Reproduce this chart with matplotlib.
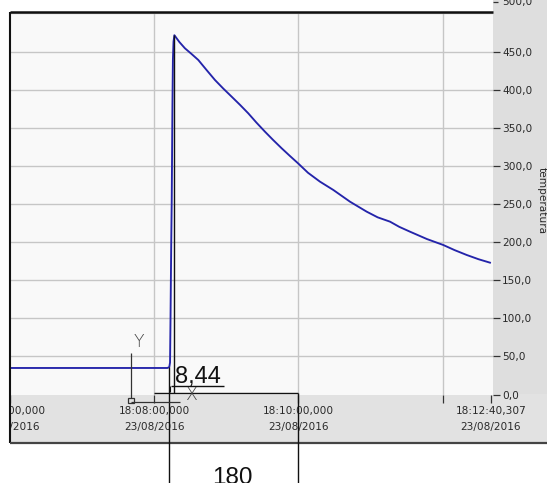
import matplotlib
matplotlib.use("Agg")
import matplotlib.pyplot as plt
from matplotlib.patches import Rectangle
from matplotlib.lines import Line2D
from matplotlib.transforms import ScaledTranslation

# Seconds elapsed since 18:06:00,000 and the recorded temperature
time_s = [0, 60, 120, 131.0, 132.6, 133.2, 133.6, 134.2, 134.6, 135.2, 135.6, 136.1,
          136.8, 141.0, 145.6, 151.0, 156.7, 163.5, 170.6, 177.5, 184.5, 191.5, 198.3,
          205.0, 212.2, 219.0, 226.1, 233.0, 240.0, 248.0, 258.0, 269.1, 283.0, 296.9,
          306.0, 316.3, 324.0, 333.0, 347.0, 360.6, 370.0, 380.1, 390.0, 399.5]
temperature = [34.8, 34.8, 34.8, 34.8, 36.0, 42.0, 100.0, 200.0, 254.0, 380.0, 440.0, 463.0,
               471.5, 462.5, 454.3, 447.0, 439.0, 426.0, 412.7, 401.5, 390.8, 380.0, 369.0,
               357.0, 344.9, 334.0, 323.1, 313.0, 303.0, 291.0, 279.3, 268.4, 253.0, 239.9,
               232.5, 226.8, 220.0, 213.6, 204.0, 196.2, 189.5, 183.1, 177.5, 173.0]

x_tick_pos = [0, 120, 240, 360, 400.307]
x_tick_labels = ["18:06:00,000\n23/08/2016", "18:08:00,000\n23/08/2016",
                 "18:10:00,000\n23/08/2016", "", "18:12:40,307\n23/08/2016"]
x_grid_pos = [120, 240, 360]
y_ticks = [0, 50, 100, 150, 200, 250, 300, 350, 400, 450, 500]
y_label = "temperatura"

W, H = 547, 483
fig = plt.figure(figsize=(W / 100, H / 100), dpi=100, facecolor="white")


def fx(x):
    return x / W


def fy(y):
    return 1 - y / H


left_px, right_px, top_px, bottom_px = 10, 493, 11.5, 394.5

# background panels of the graph widget
bg = fig.add_axes([0, 0, 1, 1], zorder=0)
bg.set_xlim(0, W)
bg.set_ylim(H, 0)
bg.axis("off")
bg.add_patch(Rectangle((right_px, 0), W - right_px, 443, facecolor="#dedede", edgecolor="none"))
bg.add_patch(Rectangle((left_px, bottom_px - 1), W - left_px, 443 - bottom_px + 1,
                       facecolor="#e2e2e2", edgecolor="none"))

# plot area
ax = fig.add_axes([fx(left_px), fy(bottom_px), (right_px - left_px) / W, (bottom_px - top_px) / H],
                  zorder=1)
ax.set_facecolor("#f9f9f9")
ax.set_xlim(0, 402.0)
ax.set_ylim(0, 502.6)
for s in ax.spines.values():
    s.set_visible(False)

for yv in y_ticks[1:]:
    ax.axhline(yv, color="#c6c6c6", lw=1.0, zorder=1)
for xv in x_grid_pos:
    ax.axvline(xv, color="#c6c6c6", lw=1.0, zorder=1)

ax.plot(time_s, temperature, color="#2424aa", lw=1.35, zorder=3, solid_joinstyle="round")

ax.yaxis.tick_right()
ax.set_yticks(y_ticks)
ax.set_yticklabels([f"{v:.1f}".replace(".", ",") for v in y_ticks])
ax.set_xticks(x_tick_pos)
ax.set_xticklabels(x_tick_labels)
ax.tick_params(axis="y", which="both", direction="out", length=5, width=0.9, pad=1.5,
               color="#333333", labelcolor="#2a2a2a", labelsize=7.6)
ax.tick_params(axis="x", which="both", direction="out", length=6, width=0.9, pad=2.5,
               color="#333333", labelcolor="#2a2a2a", labelsize=7.6)
for lbl in ax.get_xticklabels():
    lbl.set_linespacing(1.75)
    lbl.set_family("DejaVu Sans")
for lbl in ax.get_yticklabels():
    lbl.set_family("DejaVu Sans")
# the top scale label sits higher, against the upper edge
top_lbl = ax.get_yticklabels()[-1]
top_lbl.set_transform(top_lbl.get_transform() + ScaledTranslation(0, 0.12, fig.dpi_scale_trans))
ax.yaxis.get_major_ticks()[-1].tick2line.set_visible(False)

fig.text(fx(542), fy(201), y_label, rotation=270, ha="center", va="center",
         fontsize=7.6, color="#2a2a2a")

# overlay: frame lines and drawing annotations
ov = fig.add_axes([0, 0, 1, 1], zorder=3)
ov.set_xlim(0, W)
ov.set_ylim(H, 0)
ov.axis("off")

# outside of the widget stays white
ov.add_patch(Rectangle((0, 0), left_px - 0.5, H, facecolor="white", edgecolor="none"))


def seg(x0, y0, x1, y1, color="#111111", lw=1.0):
    ov.add_line(Line2D([x0, x1], [y0, y1], color=color, lw=lw, solid_capstyle="butt"))


# widget frame
seg(10, 11.5, 493, 11.5, color="#111111", lw=1.8)
seg(10, 11.5, 10, 443, color="#111111", lw=1.5)
seg(10, 443.3, W, 443.3, color="#444444", lw=1.6)
# tick dash beside the shifted top scale label
seg(493, 1.5, 498, 1.5, color="#333333", lw=0.9)

# dimension lines
seg(173.5, 35, 173.5, 393)
seg(168.5, 367, 168.5, H)
seg(154, 393, 298, 393)
seg(298, 393, 298, H)
seg(171, 386, 224, 386)
seg(169.5, 386, 169.5, 392, lw=0.8)

# coordinate icon
seg(130.5, 353, 130.5, 398, color="#333333", lw=0.9)
seg(130.5, 401.5, 180, 401.5, color="#333333", lw=0.9)
ov.add_patch(Rectangle((127.5, 398), 6, 5, facecolor="none", edgecolor="#333333", lw=0.9))
ov.text(139, 342, "Y", ha="center", va="center", fontsize=12.5, color="#444444",
        family="DejaVu Sans", fontweight="light")
ov.text(191.5, 394.5, "X", ha="center", va="center", fontsize=12.5, color="#444444",
        family="DejaVu Sans", fontweight="light")

ov.text(175.5, 383.5, "8,44", ha="left", va="baseline", fontsize=17, color="#111111",
        family="Liberation Sans")
ov.text(212, 466.5, "180", ha="left", va="top", fontsize=17.5, color="#111111",
        family="Liberation Sans")

fig.savefig("out.png", dpi=100, facecolor="white")
